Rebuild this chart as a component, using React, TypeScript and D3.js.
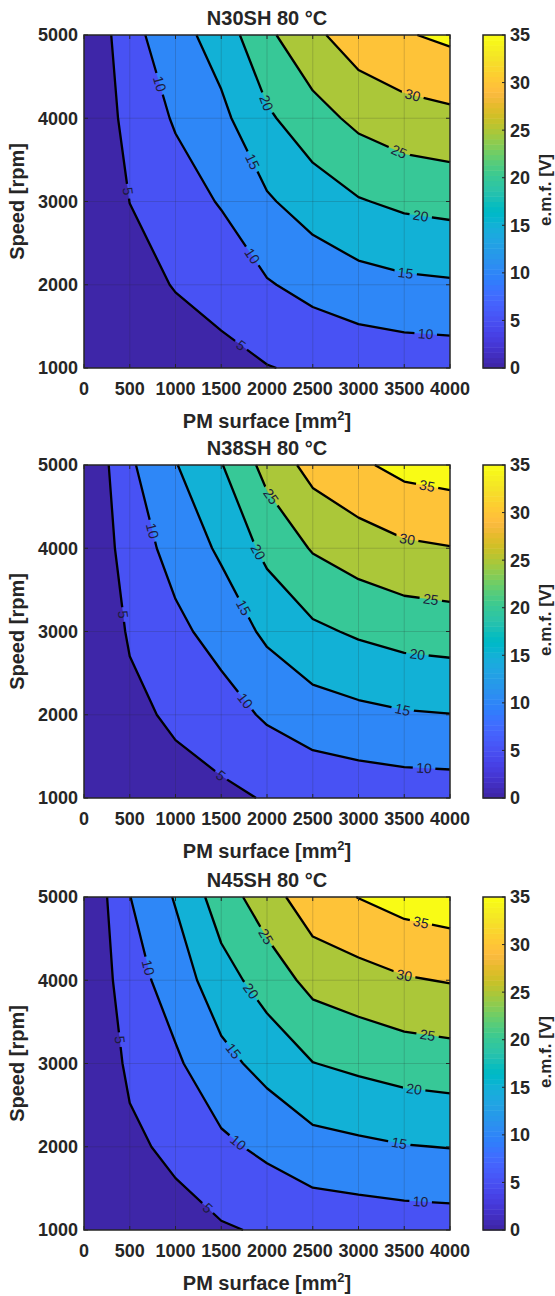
import React from 'react';
import * as d3 from 'd3';

// ---------- data ----------
const surfaceTicks = [0, 500, 1000, 1500, 2000, 2500, 3000, 3500, 4000];
const speedTicks = [1000, 2000, 3000, 4000, 5000];
const levels = [0, 5, 10, 15, 20, 25, 30, 35];
const colorbarTicks = [0, 5, 10, 15, 20, 25, 30, 35];
const titles = ['N30SH 80 °C', 'N38SH 80 °C', 'N45SH 80 °C'];

// e.m.f. [V]; rows: speed 1000..5000 rpm, columns: PM surface 0..4000 mm²
const emfN30SH = [
  [0, 1.68, 2.62, 3.45, 4.8, 5.77, 6.55, 7.0, 7.2],
  [0, 3.36, 5.24, 6.9, 9.6, 11.54, 13.1, 14.0, 14.4],
  [0, 5.04, 7.86, 10.35, 14.4, 17.31, 19.65, 21.0, 21.6],
  [0, 6.72, 10.48, 13.8, 19.2, 23.08, 26.2, 28.0, 28.8],
  [0, 8.4, 13.1, 17.25, 24.0, 28.85, 32.75, 34.6, 36.0],
];
const emfN38SH = [
  [0, 1.85, 2.95, 3.95, 5.33, 6.35, 6.89, 7.29, 7.45],
  [0, 3.7, 5.9, 7.9, 10.66, 12.7, 13.78, 14.58, 14.9],
  [0, 5.55, 8.85, 11.85, 15.99, 19.05, 20.67, 21.87, 22.35],
  [0, 7.4, 11.8, 15.8, 21.32, 25.4, 27.56, 29.16, 29.8],
  [0, 9.25, 14.75, 19.75, 26.65, 31.75, 34.2, 36.45, 37.25],
];
const emfN45SH = [
  [0, 1.98, 3.08, 4.5, 5.55, 6.63, 7.02, 7.39, 7.57],
  [0, 3.96, 6.16, 9.0, 11.1, 13.26, 14.04, 14.78, 15.14],
  [0, 5.94, 9.24, 13.5, 16.65, 19.89, 21.06, 22.17, 22.71],
  [0, 7.92, 12.32, 18.0, 22.2, 26.52, 28.08, 29.56, 30.28],
  [0, 9.9, 15.4, 22.5, 27.75, 33.15, 35.1, 36.95, 37.85],
];

// contour label anchors: [level, surface, speed]
const labelsN30SH = [
  [10, 783, 4400], [5, 455, 3120], [20, 1985, 4180], [15, 1803, 3460], [10, 1803, 2320],
  [5, 1694, 1240], [30, 3588, 4260], [25, 3443, 3600], [20, 3679, 2820], [15, 3515, 2140],
  [10, 3734, 1400],
];
const labelsN38SH = [
  [10, 710, 4200], [5, 401, 3200], [25, 2040, 4620], [20, 1876, 3940], [15, 1694, 3260],
  [10, 1741, 2150], [5, 1475, 1240], [35, 3752, 4760], [30, 3534, 4120], [25, 3789, 3380],
  [20, 3643, 2720], [15, 3479, 2050], [10, 3716, 1350],
];
const labelsN45SH = [
  [10, 656, 4140], [5, 346, 3280], [25, 1949, 4500], [20, 1785, 3840], [15, 1621, 3140],
  [10, 1676, 2040], [5, 1348, 1260], [35, 3679, 4680], [30, 3497, 4050], [25, 3752, 3320],
  [20, 3607, 2680], [15, 3443, 2030], [10, 3679, 1340],
];

const panelData = [emfN30SH, emfN38SH, emfN45SH];
const panelLabels = [labelsN30SH, labelsN38SH, labelsN45SH];

// parula colormap (64)
const PARULA = [
  [0.2422, 0.1504, 0.6603], [0.2504, 0.165, 0.7076], [0.2578, 0.1818, 0.7511], [0.2647, 0.1978, 0.7952],
  [0.2706, 0.2147, 0.8364], [0.2751, 0.2342, 0.871], [0.2783, 0.2559, 0.8991], [0.2803, 0.2782, 0.9221],
  [0.2813, 0.3006, 0.9414], [0.281, 0.3228, 0.9579], [0.2795, 0.3447, 0.9717], [0.276, 0.3667, 0.9829],
  [0.2699, 0.3892, 0.9906], [0.2602, 0.4123, 0.9952], [0.244, 0.4358, 0.9988], [0.2206, 0.4603, 0.9973],
  [0.1963, 0.4847, 0.9892], [0.1834, 0.5074, 0.9798], [0.1786, 0.5289, 0.9682], [0.1764, 0.5499, 0.952],
  [0.1687, 0.5703, 0.9359], [0.154, 0.5902, 0.9218], [0.146, 0.6091, 0.9079], [0.138, 0.6276, 0.8973],
  [0.1248, 0.6459, 0.8883], [0.1113, 0.6635, 0.8763], [0.0952, 0.6798, 0.8598], [0.0689, 0.6948, 0.8394],
  [0.0297, 0.7082, 0.8163], [0.0036, 0.7203, 0.7917], [0.0067, 0.7312, 0.766], [0.0433, 0.7411, 0.7394],
  [0.0964, 0.75, 0.712], [0.1408, 0.7584, 0.6842], [0.1717, 0.767, 0.6554], [0.1938, 0.7758, 0.6251],
  [0.2161, 0.7843, 0.5923], [0.247, 0.7918, 0.5567], [0.2906, 0.7973, 0.5188], [0.3406, 0.8008, 0.4789],
  [0.3909, 0.8029, 0.4354], [0.4456, 0.8024, 0.3909], [0.5044, 0.7993, 0.348], [0.5616, 0.7942, 0.3045],
  [0.6174, 0.7876, 0.2612], [0.672, 0.7793, 0.2227], [0.7242, 0.7698, 0.191], [0.7738, 0.7598, 0.1646],
  [0.8203, 0.7498, 0.1535], [0.8634, 0.7406, 0.1596], [0.9035, 0.733, 0.1774], [0.9393, 0.7288, 0.21],
  [0.9728, 0.7298, 0.2394], [0.9956, 0.7434, 0.2371], [0.997, 0.7659, 0.2199], [0.9952, 0.7893, 0.2028],
  [0.9892, 0.8136, 0.1885], [0.9786, 0.8386, 0.1766], [0.9676, 0.8639, 0.1643], [0.961, 0.889, 0.1537],
  [0.9597, 0.9135, 0.1423], [0.9628, 0.9373, 0.1265], [0.9691, 0.9606, 0.1064], [0.9769, 0.9839, 0.0805],
];

// ---------- layout ----------
const W = 555;
const H = 1296;
const FONT = '"Liberation Sans", Arial, Helvetica, sans-serif';
const TXT = '#262626';
const plotLeft = 84;
const plotRight = 450;
const plotHeight = 333;
const panelTops = [35, 465, 897];
const cbLeft = 483;
const cbRight = 505;
const cmin = 0;
const cmax = 35;

function toHex(c: number[]) {
  return d3.rgb(c[0] * 255, c[1] * 255, c[2] * 255).formatHex();
}
function cmap(v: number): string {
  const m = PARULA.length;
  let idx = Math.floor(((v - cmin) / (cmax - cmin)) * m);
  idx = Math.max(0, Math.min(m - 1, idx));
  return toHex(PARULA[idx]);
}

type Pt = { px: number; py: number; fx: number; fy: number };

function Panel({ pi }: { pi: number }) {
  const values = panelData[pi];
  const anchors = panelLabels[pi];
  const top = panelTops[pi];
  const bottom = top + plotHeight;
  const x = d3.scaleLinear().domain([0, 4000]).range([plotLeft, plotRight]);
  const y = d3.scaleLinear().domain([1000, 5000]).range([bottom, top]);
  const n = surfaceTicks.length;
  const m = speedTicks.length;
  const colIdx = d3.scaleLinear().domain(d3.range(n)).range(surfaceTicks);
  const rowIdx = d3.scaleLinear().domain(d3.range(m)).range(speedTicks);
  const flat = values.flat();
  const contours = d3.contours().size([n, m]).thresholds(levels)(flat);

  const mapPt = (p: number[]): Pt => {
    const fx = Math.max(0, Math.min(n - 1, p[0] - 0.5));
    const fy = Math.max(0, Math.min(m - 1, p[1] - 0.5));
    return { px: x(colIdx(fx)), py: y(rowIdx(fy)), fx, fy };
  };

  const fills = contours.map((c) => {
    const d = c.coordinates
      .map((poly) =>
        poly
          .map((ring) => 'M' + ring.map((p) => { const q = mapPt(p); return q.px.toFixed(2) + ',' + q.py.toFixed(2); }).join('L') + 'Z')
          .join('')
      )
      .join('');
    return { value: c.value, d };
  });

  // isolines
  const eps = 1e-9;
  const sameBoundary = (a: Pt, b: Pt) =>
    (Math.abs(a.fx) < eps && Math.abs(b.fx) < eps) ||
    (Math.abs(a.fx - (n - 1)) < eps && Math.abs(b.fx - (n - 1)) < eps) ||
    (Math.abs(a.fy) < eps && Math.abs(b.fy) < eps) ||
    (Math.abs(a.fy - (m - 1)) < eps && Math.abs(b.fy - (m - 1)) < eps);

  const isolines: { value: number; lines: number[][][] }[] = [];
  contours.forEach((c) => {
    if (c.value <= levels[0]) return;
    const lines: number[][][] = [];
    c.coordinates.forEach((poly) =>
      poly.forEach((ring) => {
        let pts = ring.map(mapPt);
        if (pts.length > 1) {
          const a = pts[0], b = pts[pts.length - 1];
          if (Math.abs(a.px - b.px) < eps && Math.abs(a.py - b.py) < eps) pts = pts.slice(0, -1);
        }
        const L = pts.length;
        if (L < 2) return;
        const bnd = pts.map((p, i) => sameBoundary(p, pts[(i + 1) % L]));
        const s = bnd.findIndex((v) => v);
        if (s < 0) {
          lines.push([...pts, pts[0]].map((p) => [p.px, p.py]));
          return;
        }
        let cur: number[][] | null = null;
        for (let k = 1; k <= L; k++) {
          const i = (s + k) % L;
          const j = (i + 1) % L;
          if (!bnd[i]) {
            if (!cur) cur = [[pts[i].px, pts[i].py]];
            cur.push([pts[j].px, pts[j].py]);
          } else if (cur) {
            lines.push(cur);
            cur = null;
          }
        }
        if (cur) lines.push(cur);
      })
    );
    isolines.push({ value: c.value, lines });
  });

  const lineGen = d3.line();

  // labels
  const labelFont = 14;
  const placed = anchors
    .map(([lev, s, r]) => {
      const iso = isolines.find((q) => q.value === lev);
      if (!iso) return null;
      const ax = x(s);
      const ay = y(r);
      let best: { d: number; px: number; py: number; ang: number } | null = null;
      iso.lines.forEach((line) => {
        for (let i = 0; i < line.length - 1; i++) {
          const [x1, y1] = line[i];
          const [x2, y2] = line[i + 1];
          const dx = x2 - x1, dy = y2 - y1;
          const l2 = dx * dx + dy * dy;
          if (l2 < 1e-9) continue;
          let t = ((ax - x1) * dx + (ay - y1) * dy) / l2;
          t = Math.max(0, Math.min(1, t));
          const px = x1 + t * dx, py = y1 + t * dy;
          const d = (px - ax) ** 2 + (py - ay) ** 2;
          if (!best || d < best.d) best = { d, px, py, ang: (Math.atan2(dy, dx) * 180) / Math.PI };
        }
      });
      if (!best) return null;
      let ang = (best as any).ang;
      if (ang > 90) ang -= 180;
      if (ang < -90) ang += 180;
      const text = String(lev);
      const w = text.length * labelFont * 0.556 + 7;
      return { text, px: (best as any).px, py: (best as any).py, ang, w };
    })
    .filter(Boolean) as { text: string; px: number; py: number; ang: number; w: number }[];

  const maskId = `lblmask${pi}`;
  const tickLen = 4;
  const xGrid = surfaceTicks.slice(1, -1);
  const yGrid = speedTicks.slice(1, -1);
  const cx = (plotLeft + plotRight) / 2;

  // colorbar
  const cbY = d3.scaleLinear().domain([cmin, cmax]).range([bottom, top]);
  const cbStep = (cmax - cmin) / PARULA.length;

  return (
    <g>
      <defs>
        <mask id={maskId} maskUnits="userSpaceOnUse" x={0} y={0} width={W} height={H}>
          <rect x={0} y={0} width={W} height={H} fill="white" />
          {placed.map((l, i) => (
            <rect key={i} x={-l.w / 2} y={-6.5} width={l.w} height={13} fill="black"
              transform={`translate(${l.px},${l.py}) rotate(${l.ang})`} />
          ))}
        </mask>
      </defs>
      {/* title */}
      <text x={cx} y={top - 10} textAnchor="middle" fontFamily={FONT} fontWeight="bold" fontSize={20} fill={TXT}>
        {titles[pi]}
      </text>
      {/* fills */}
      <rect x={plotLeft} y={top} width={plotRight - plotLeft} height={plotHeight} fill={cmap(levels[0])} />
      {fills.map((f, i) => (
        <path key={i} d={f.d} fill={cmap(f.value)} stroke="none" />
      ))}
      {/* grid */}
      {xGrid.map((v) => (
        <line key={'gx' + v} x1={x(v)} x2={x(v)} y1={top} y2={bottom} stroke="#262626" strokeOpacity={0.18} strokeWidth={1} />
      ))}
      {yGrid.map((v) => (
        <line key={'gy' + v} x1={plotLeft} x2={plotRight} y1={y(v)} y2={y(v)} stroke="#262626" strokeOpacity={0.18} strokeWidth={1} />
      ))}
      {/* contour lines */}
      <g mask={`url(#${maskId})`}>
        {isolines.map((iso) =>
          iso.lines.map((line, k) => (
            <path key={iso.value + '-' + k} d={lineGen(line as [number, number][]) || ''} fill="none" stroke="#000" strokeWidth={2.3} strokeLinejoin="round" />
          ))
        )}
      </g>
      {placed.map((l, i) => (
        <text key={'lb' + i} transform={`translate(${l.px},${l.py}) rotate(${l.ang})`} textAnchor="middle" dy="0.35em"
          fontFamily={FONT} fontSize={labelFont} fill="#1c1c3c">
          {l.text}
        </text>
      ))}
      {/* ticks */}
      {surfaceTicks.map((v) => (
        <g key={'tx' + v}>
          <line x1={x(v)} x2={x(v)} y1={bottom} y2={bottom - tickLen} stroke={TXT} strokeWidth={1} />
          <line x1={x(v)} x2={x(v)} y1={top} y2={top + tickLen} stroke={TXT} strokeWidth={1} />
          <text x={x(v)} y={bottom + 27} textAnchor="middle" fontFamily={FONT} fontWeight="bold" fontSize={18} fill={TXT}>
            {v}
          </text>
        </g>
      ))}
      {speedTicks.map((v) => (
        <g key={'ty' + v}>
          <line x1={plotLeft} x2={plotLeft + tickLen} y1={y(v)} y2={y(v)} stroke={TXT} strokeWidth={1} />
          <line x1={plotRight} x2={plotRight - tickLen} y1={y(v)} y2={y(v)} stroke={TXT} strokeWidth={1} />
          <text x={78} y={y(v)} dy="0.36em" textAnchor="end" fontFamily={FONT} fontWeight="bold" fontSize={18} fill={TXT}>
            {v}
          </text>
        </g>
      ))}
      <rect x={plotLeft} y={top} width={plotRight - plotLeft} height={plotHeight} fill="none" stroke={TXT} strokeWidth={1.5} />
      {/* axis labels */}
      <text x={cx} y={bottom + 60} textAnchor="middle" fontFamily={FONT} fontWeight="bold" fontSize={20} fill={TXT}>
        PM surface [mm<tspan dy={-8} fontSize={13}>2</tspan><tspan dy={8}>]</tspan>
      </text>
      <text transform={`translate(24,${(top + bottom) / 2}) rotate(-90)`} textAnchor="middle" fontFamily={FONT} fontWeight="bold" fontSize={20} fill={TXT}>
        Speed [rpm]
      </text>
      {/* colorbar */}
      {PARULA.map((c, i) => (
        <rect key={'cb' + i} x={cbLeft} width={cbRight - cbLeft}
          y={cbY(cmin + (i + 1) * cbStep)} height={cbY(cmin + i * cbStep) - cbY(cmin + (i + 1) * cbStep) + 0.5}
          fill={toHex(c)} />
      ))}
      {colorbarTicks.map((v) => (
        <g key={'ct' + v}>
          <line x1={cbRight} x2={cbRight - 3} y1={cbY(v)} y2={cbY(v)} stroke={TXT} strokeWidth={1} />
          <text x={510} y={cbY(v)} dy="0.36em" fontFamily={FONT} fontWeight="bold" fontSize={18} fill={TXT}>
            {v}
          </text>
        </g>
      ))}
      <rect x={cbLeft} y={top} width={cbRight - cbLeft} height={plotHeight} fill="none" stroke={TXT} strokeWidth={1.5} />
      <text transform={`translate(551,${top + 155}) rotate(-90)`} textAnchor="middle" fontFamily={FONT} fontWeight="bold" fontSize={17} fill={TXT}>
        e.m.f. [V]
      </text>
    </g>
  );
}

export default function App() {
  return (
    <svg width={W} height={H} viewBox={`0 0 ${W} ${H}`} style={{ position: 'absolute', left: 0, top: 0, background: '#fff' }}>
      <rect x={0} y={0} width={W} height={H} fill="#fff" />
      {[0, 1, 2].map((pi) => (
        <Panel key={pi} pi={pi} />
      ))}
    </svg>
  );
}
